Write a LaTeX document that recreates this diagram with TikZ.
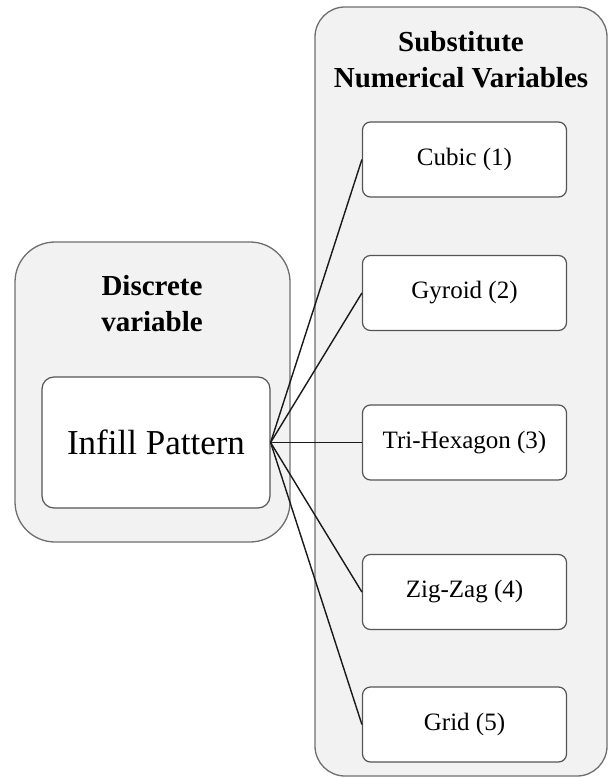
\documentclass[tikz,border=0pt]{standalone}
\usepackage{fontspec}
\setmainfont{Liberation Serif}
\definecolor{groupfill}{HTML}{F2F2F2}
\definecolor{groupline}{HTML}{6E6E6E}
\definecolor{boxline}{HTML}{555555}
\tikzset{
    group/.style={draw=groupline, fill=groupfill, line width=1.3pt},
    option/.style={draw=boxline, fill=white, line width=1.2pt, rounded corners=8pt,
        minimum width=204pt, minimum height=75pt, font=\fontsize{25}{30}\selectfont},
    heading/.style={align=center, font=\fontsize{29}{36}\selectfont\bfseries},
    link/.style={line width=1.4pt, black!90}
}
\begin{document}
\begin{tikzpicture}[x=1pt, y=-1pt]
        \useasboundingbox (0,0) rectangle (614,778);
        \node[group, rounded corners=40pt, minimum width=275pt, minimum height=300pt] (discrete) at (152.5,392) {};
        \node[group, rounded corners=30pt, minimum width=292pt, minimum height=769pt] (substitute) at (461,391.5) {};
        \node[heading] (discretetitle) at (152,304) {Discrete\\variable};
        \node[heading] (substitutetitle) at (461,60) {Substitute\\Numerical Variables};
        \node[draw=boxline, fill=white, line width=1.2pt, rounded corners=12pt, minimum width=228pt, minimum height=131pt, font=\fontsize{35}{42}\selectfont] (infill) at (156,442.5) {Infill Pattern};
        \node[option] (cubic) at (464.5,159.5) {Cubic (1)};
        \node[option] (gyroid) at (464.5,293) {Gyroid (2)};
        \node[option] (trihex) at (464.5,442.5) {Tri-Hexagon (3)};
        \node[option] (zigzag) at (464.5,592) {Zig-Zag (4)};
        \node[option] (grid) at (464.5,724.5) {Grid (5)};
        \draw[link] (infill.east) -- (cubic.west);
        \draw[link] (infill.east) -- (gyroid.west);
        \draw[link] (infill.east) -- (trihex.west);
        \draw[link] (infill.east) -- (zigzag.west);
        \draw[link] (infill.east) -- (grid.west);
    \end{tikzpicture}
\end{document}
